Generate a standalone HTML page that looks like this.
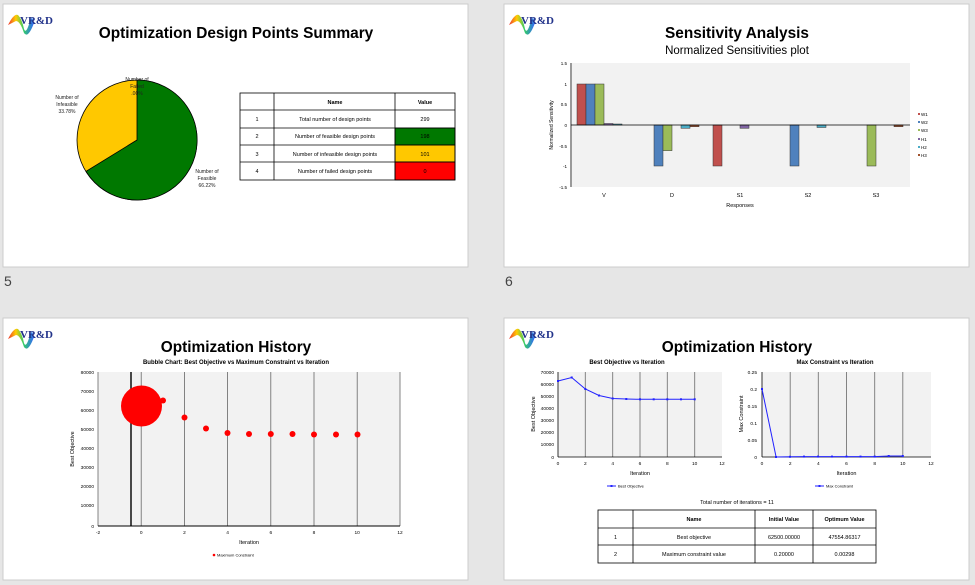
<!DOCTYPE html>
<html><head><meta charset="utf-8"><style>
html,body{margin:0;padding:0;background:#e6e6e6;}
svg{display:block;font-family:"Liberation Sans",sans-serif;}
</style></head><body>
<svg width="975" height="585" viewBox="0 0 975 585" xmlns="http://www.w3.org/2000/svg">
<defs>
<linearGradient id="lg" x1="0" x2="1" y1="0" y2="0"><stop offset="0" stop-color="#e33"/><stop offset="0.3" stop-color="#fc0"/><stop offset="0.6" stop-color="#3c6"/><stop offset="1" stop-color="#36f"/></linearGradient>
<g id="logo"><path d="M0 14 Q6 2 10 4 Q14 8 16 18 Q18 24 22 10 L24 6 L26 12 Q20 28 16 22 Q12 10 8 10 Q4 12 0 14Z" fill="url(#lg)"/><text x="12" y="13" font-family="Liberation Serif" font-size="11" font-weight="bold" fill="#22338a">VR&amp;D</text></g>
</defs>
<rect x="0" y="0" width="975" height="585" fill="#e6e6e6"/>
<rect x="3" y="4" width="465" height="263" fill="#fff" stroke="#ccc"/>
<rect x="504" y="4" width="465" height="263" fill="#fff" stroke="#ccc"/>
<rect x="3" y="318" width="465" height="262" fill="#fff" stroke="#ccc"/>
<rect x="504" y="318" width="465" height="262" fill="#fff" stroke="#ccc"/>
<text x="4" y="286" font-size="14" fill="#444">5</text>
<text x="505" y="286" font-size="14" fill="#444">6</text>
<use href="#logo" x="8" y="11"/><use href="#logo" x="509" y="11"/><use href="#logo" x="8" y="325"/><use href="#logo" x="509" y="325"/>

<!-- Slide 5 -->
<text x="236" y="38" font-size="15.4" font-weight="bold" text-anchor="middle">Optimization Design Points Summary</text>
<circle cx="137" cy="140" r="60" fill="#ffc800" stroke="#000" stroke-width="0.8"/>
<path d="M137 140 L137 80 A60 60 0 1 1 86 171.4 Z" fill="#007800" stroke="#000" stroke-width="0.8"/>
<g font-size="5" text-anchor="middle" fill="#222">
<text x="67" y="99">Number of</text><text x="67" y="106">Infeasible</text><text x="67" y="113">33.78%</text>
<text x="137" y="81">Number of</text><text x="137" y="88">Failed</text><text x="137" y="95">.00%</text>
<text x="207" y="173">Number of</text><text x="207" y="180">Feasible</text><text x="207" y="187">66.22%</text>
</g>
<g stroke="#000" stroke-width="0.8" fill="none">
<rect x="395" y="128" width="60" height="17" fill="#007800"/>
<rect x="395" y="145" width="60" height="17" fill="#ffc800"/>
<rect x="395" y="162" width="60" height="18" fill="#f00"/>
<rect x="240" y="93" width="215" height="87"/>
<line x1="274" y1="93" x2="274" y2="180"/><line x1="395" y1="93" x2="395" y2="180"/>
<line x1="240" y1="110" x2="455" y2="110"/><line x1="240" y1="128" x2="455" y2="128"/><line x1="240" y1="145" x2="455" y2="145"/><line x1="240" y1="162" x2="455" y2="162"/>
</g>
<g font-size="5.5" text-anchor="middle">
<text x="335" y="104" font-weight="bold">Name</text><text x="425" y="104" font-weight="bold">Value</text>
<text x="257" y="121">1</text><text x="335" y="121">Total number of design points</text><text x="425" y="121">299</text>
<text x="257" y="138">2</text><text x="335" y="138">Number of feasible design points</text><text x="425" y="138">198</text>
<text x="257" y="156">3</text><text x="335" y="156">Number of infeasible design points</text><text x="425" y="156">101</text>
<text x="257" y="173">4</text><text x="335" y="173">Number of failed design points</text><text x="425" y="173">0</text>
</g>

<!-- Slide 6 -->
<text x="737" y="38" font-size="15.4" font-weight="bold" text-anchor="middle">Sensitivity Analysis</text>
<text x="737" y="54" font-size="11.5" text-anchor="middle">Normalized Sensitivities plot</text>
<rect x="572" y="63" width="338" height="124" fill="#f2f2f2"/>
<line x1="571" y1="63" x2="571" y2="187" stroke="#000" stroke-width="0.8"/>
<g font-size="4.5" text-anchor="end">
<text x="567" y="65">1.5</text><text x="567" y="86">1</text><text x="567" y="106">0.5</text><text x="567" y="127">0</text><text x="567" y="148">-0.5</text><text x="567" y="168">-1</text><text x="567" y="189">-1.5</text>
</g>
<g stroke="#333" stroke-width="0.5">
<rect x="577" y="84" width="9" height="41" fill="#c0504d"/>
<rect x="586" y="84" width="9" height="41" fill="#4f81bd"/>
<rect x="595" y="84" width="9" height="41" fill="#9bbb59"/>
<rect x="604" y="123.5" width="9" height="1.5" fill="#8064a2"/>
<rect x="613" y="124" width="9" height="1" fill="#4bacc6"/>
<rect x="654" y="125" width="9" height="41" fill="#4f81bd"/>
<rect x="663" y="125" width="9" height="25.6" fill="#9bbb59"/>
<rect x="681" y="125" width="9" height="3.3" fill="#4bacc6"/>
<rect x="690" y="125" width="9" height="1.7" fill="#a0522d"/>
<rect x="713" y="125" width="9" height="41" fill="#c0504d"/>
<rect x="740" y="125" width="9" height="3.3" fill="#8064a2"/>
<rect x="790" y="125" width="9" height="41" fill="#4f81bd"/>
<rect x="817" y="125" width="9" height="2.5" fill="#4bacc6"/>
<rect x="867" y="125" width="9" height="41" fill="#9bbb59"/>
<rect x="894" y="125" width="9" height="1.7" fill="#a0522d"/>
</g>
<line x1="571" y1="125" x2="910" y2="125" stroke="#000" stroke-width="0.8"/>
<g font-size="5.5" text-anchor="middle">
<text x="604" y="197">V</text><text x="672" y="197">D</text><text x="740" y="197">S1</text><text x="808" y="197">S2</text><text x="876" y="197">S3</text>
<text x="740" y="207">Responses</text>
</g>
<text font-size="5" text-anchor="middle" transform="translate(553,125) rotate(-90)">Normalized Sensitivity</text>
<g font-size="4.5">
<rect x="918" y="113" width="2" height="2" fill="#c0504d"/><text x="921" y="116">W1</text>
<rect x="918" y="121" width="2" height="2" fill="#4f81bd"/><text x="921" y="124">W2</text>
<rect x="918" y="129" width="2" height="2" fill="#9bbb59"/><text x="921" y="132">W3</text>
<rect x="918" y="138" width="2" height="2" fill="#8064a2"/><text x="921" y="141">H1</text>
<rect x="918" y="146" width="2" height="2" fill="#4bacc6"/><text x="921" y="149">H2</text>
<rect x="918" y="154" width="2" height="2" fill="#a0522d"/><text x="921" y="157">H3</text>
</g>

<!-- Slide 7 -->
<text x="236" y="352" font-size="15.4" font-weight="bold" text-anchor="middle">Optimization History</text>
<text x="236" y="364" font-size="6" font-weight="bold" text-anchor="middle">Bubble Chart: Best Objective vs Maximum Constraint vs Iteration</text>
<rect x="98" y="372" width="302" height="154" fill="#f2f2f2"/>
<g stroke="#666" stroke-width="0.8">
<line x1="98" y1="372" x2="98" y2="526"/><line x1="141.2" y1="372" x2="141.2" y2="526"/><line x1="184.4" y1="372" x2="184.4" y2="526"/><line x1="227.6" y1="372" x2="227.6" y2="526"/><line x1="270.8" y1="372" x2="270.8" y2="526"/><line x1="314" y1="372" x2="314" y2="526"/><line x1="357.2" y1="372" x2="357.2" y2="526"/><line x1="400" y1="372" x2="400" y2="526"/>
</g>
<line x1="131" y1="372" x2="131" y2="526" stroke="#000" stroke-width="1.4"/>
<line x1="98" y1="526" x2="400" y2="526" stroke="#000" stroke-width="1"/>
<g fill="#f00">
<circle cx="141.5" cy="406" r="20.5"/>
<circle cx="163" cy="400.5" r="3"/><circle cx="184.5" cy="417.5" r="3"/><circle cx="206" cy="428.5" r="3"/><circle cx="227.5" cy="433" r="3"/><circle cx="249" cy="434" r="3"/><circle cx="270.8" cy="434" r="3"/><circle cx="292.5" cy="434" r="3"/><circle cx="314" cy="434.5" r="3"/><circle cx="336" cy="434.5" r="3"/><circle cx="357.5" cy="434.5" r="3"/>
</g>
<g font-size="4.8" text-anchor="end">
<text x="94" y="374">80000</text><text x="94" y="393">70000</text><text x="94" y="412">60000</text><text x="94" y="431">50000</text><text x="94" y="450">40000</text><text x="94" y="469">30000</text><text x="94" y="488">20000</text><text x="94" y="507">10000</text><text x="94" y="528">0</text>
</g>
<g font-size="4.8" text-anchor="middle">
<text x="98" y="534">-2</text><text x="141.2" y="534">0</text><text x="184.4" y="534">2</text><text x="227.6" y="534">4</text><text x="270.8" y="534">6</text><text x="314" y="534">8</text><text x="357.2" y="534">10</text><text x="400" y="534">12</text>
<text x="249" y="544" font-size="5.5">Iteration</text>
</g>
<text font-size="5.5" text-anchor="middle" transform="translate(74,449) rotate(-90)">Best Objective</text>
<circle cx="214" cy="555" r="1.3" fill="#f00"/><text x="217" y="556.5" font-size="4">Maximum Constraint</text>

<!-- Slide 8 -->
<text x="737" y="352" font-size="15.4" font-weight="bold" text-anchor="middle">Optimization History</text>
<text x="627" y="364" font-size="6" font-weight="bold" text-anchor="middle">Best Objective vs Iteration</text>
<text x="835" y="364" font-size="6" font-weight="bold" text-anchor="middle">Max Constraint vs Iteration</text>
<rect x="558" y="372" width="164" height="85" fill="#f2f2f2"/>
<rect x="762" y="372" width="169" height="85" fill="#f2f2f2"/>
<g stroke="#777" stroke-width="0.9">
<line x1="585.3" y1="372" x2="585.3" y2="457"/><line x1="612.7" y1="372" x2="612.7" y2="457"/><line x1="640" y1="372" x2="640" y2="457"/><line x1="667.3" y1="372" x2="667.3" y2="457"/><line x1="694.7" y1="372" x2="694.7" y2="457"/>
<line x1="790.2" y1="372" x2="790.2" y2="457"/><line x1="818.3" y1="372" x2="818.3" y2="457"/><line x1="846.5" y1="372" x2="846.5" y2="457"/><line x1="874.7" y1="372" x2="874.7" y2="457"/><line x1="902.8" y1="372" x2="902.8" y2="457"/>
</g>
<g stroke="#000" stroke-width="0.8">
<line x1="558" y1="372" x2="558" y2="457"/><line x1="558" y1="457" x2="722" y2="457"/>
<line x1="762" y1="372" x2="762" y2="457"/><line x1="762" y1="457" x2="931" y2="457"/>
</g>
<polyline fill="none" stroke="#22f" stroke-width="1" points="558,381 571.7,377.5 585.3,389 599,395.5 612.7,398.5 626.3,399 640,399.3 653.7,399.3 667.3,399.3 681,399.3 694.7,399.3"/>
<g fill="#22f"><rect x="557" y="380" width="2" height="2"/><rect x="570.7" y="376.5" width="2" height="2"/><rect x="584.3" y="388" width="2" height="2"/><rect x="598" y="394.5" width="2" height="2"/><rect x="611.7" y="397.5" width="2" height="2"/><rect x="625.3" y="398" width="2" height="2"/><rect x="639" y="398.3" width="2" height="2"/><rect x="652.7" y="398.3" width="2" height="2"/><rect x="666.3" y="398.3" width="2" height="2"/><rect x="680" y="398.3" width="2" height="2"/><rect x="693.7" y="398.3" width="2" height="2"/></g>
<polyline fill="none" stroke="#22f" stroke-width="1" points="762,389 776.1,457 790.2,456.8 804.3,456.6 818.3,456.6 832.4,456.6 846.5,456.6 860.6,456.6 874.7,456.6 888.7,456 902.8,456"/>
<g fill="#22f"><rect x="761" y="388" width="2" height="2"/><rect x="775" y="456" width="2" height="2"/><rect x="789" y="455.8" width="2" height="2"/><rect x="803" y="455.6" width="2" height="2"/><rect x="817" y="455.6" width="2" height="2"/><rect x="831" y="455.6" width="2" height="2"/><rect x="845.5" y="455.6" width="2" height="2"/><rect x="859.5" y="455.6" width="2" height="2"/><rect x="873.7" y="455.6" width="2" height="2"/><rect x="887.7" y="455" width="2" height="2"/><rect x="901.8" y="455" width="2" height="2"/></g>
<g font-size="4.8" text-anchor="end">
<text x="554" y="374">70000</text><text x="554" y="386">60000</text><text x="554" y="398">50000</text><text x="554" y="410">40000</text><text x="554" y="422">30000</text><text x="554" y="434">20000</text><text x="554" y="446">10000</text><text x="554" y="459">0</text>
<text x="757" y="374">0.25</text><text x="757" y="391">0.2</text><text x="757" y="408">0.15</text><text x="757" y="425">0.1</text><text x="757" y="442">0.05</text><text x="757" y="459">0</text>
</g>
<g font-size="4.8" text-anchor="middle">
<text x="558" y="465">0</text><text x="585.3" y="465">2</text><text x="612.7" y="465">4</text><text x="640" y="465">6</text><text x="667.3" y="465">8</text><text x="694.7" y="465">10</text><text x="722" y="465">12</text>
<text x="762" y="465">0</text><text x="790.2" y="465">2</text><text x="818.3" y="465">4</text><text x="846.5" y="465">6</text><text x="874.7" y="465">8</text><text x="902.8" y="465">10</text><text x="931" y="465">12</text>
<text x="640" y="475" font-size="5.5">Iteration</text><text x="846.5" y="475" font-size="5.5">Iteration</text>
</g>
<text font-size="5.5" text-anchor="middle" transform="translate(535,414) rotate(-90)">Best Objective</text>
<text font-size="5.5" text-anchor="middle" transform="translate(743,414) rotate(-90)">Max Constraint</text>
<line x1="607" y1="486" x2="616" y2="486" stroke="#22f"/><rect x="610.5" y="485" width="2" height="2" fill="#22f"/><text x="618" y="487.5" font-size="4">Best Objective</text>
<line x1="815" y1="486" x2="824" y2="486" stroke="#22f"/><rect x="818.5" y="485" width="2" height="2" fill="#22f"/><text x="826" y="487.5" font-size="4">Max Constraint</text>
<text x="737" y="504" font-size="5.5" text-anchor="middle">Total number of iterations = 11</text>
<g stroke="#000" stroke-width="0.8" fill="none">
<rect x="598" y="510" width="278" height="53"/>
<line x1="633" y1="510" x2="633" y2="563"/><line x1="755" y1="510" x2="755" y2="563"/><line x1="813" y1="510" x2="813" y2="563"/>
<line x1="598" y1="528" x2="876" y2="528"/><line x1="598" y1="545" x2="876" y2="545"/>
</g>
<g font-size="5.5" text-anchor="middle">
<text x="694" y="521" font-weight="bold">Name</text><text x="784" y="521" font-weight="bold">Initial Value</text><text x="844.5" y="521" font-weight="bold">Optimum Value</text>
<text x="615.5" y="539">1</text><text x="694" y="539">Best objective</text><text x="784" y="539">62500.00000</text><text x="844.5" y="539">47554.86317</text>
<text x="615.5" y="556">2</text><text x="694" y="556">Maximum constraint value</text><text x="784" y="556">0.20000</text><text x="844.5" y="556">0.00298</text>
</g>
</svg>
</body></html>
